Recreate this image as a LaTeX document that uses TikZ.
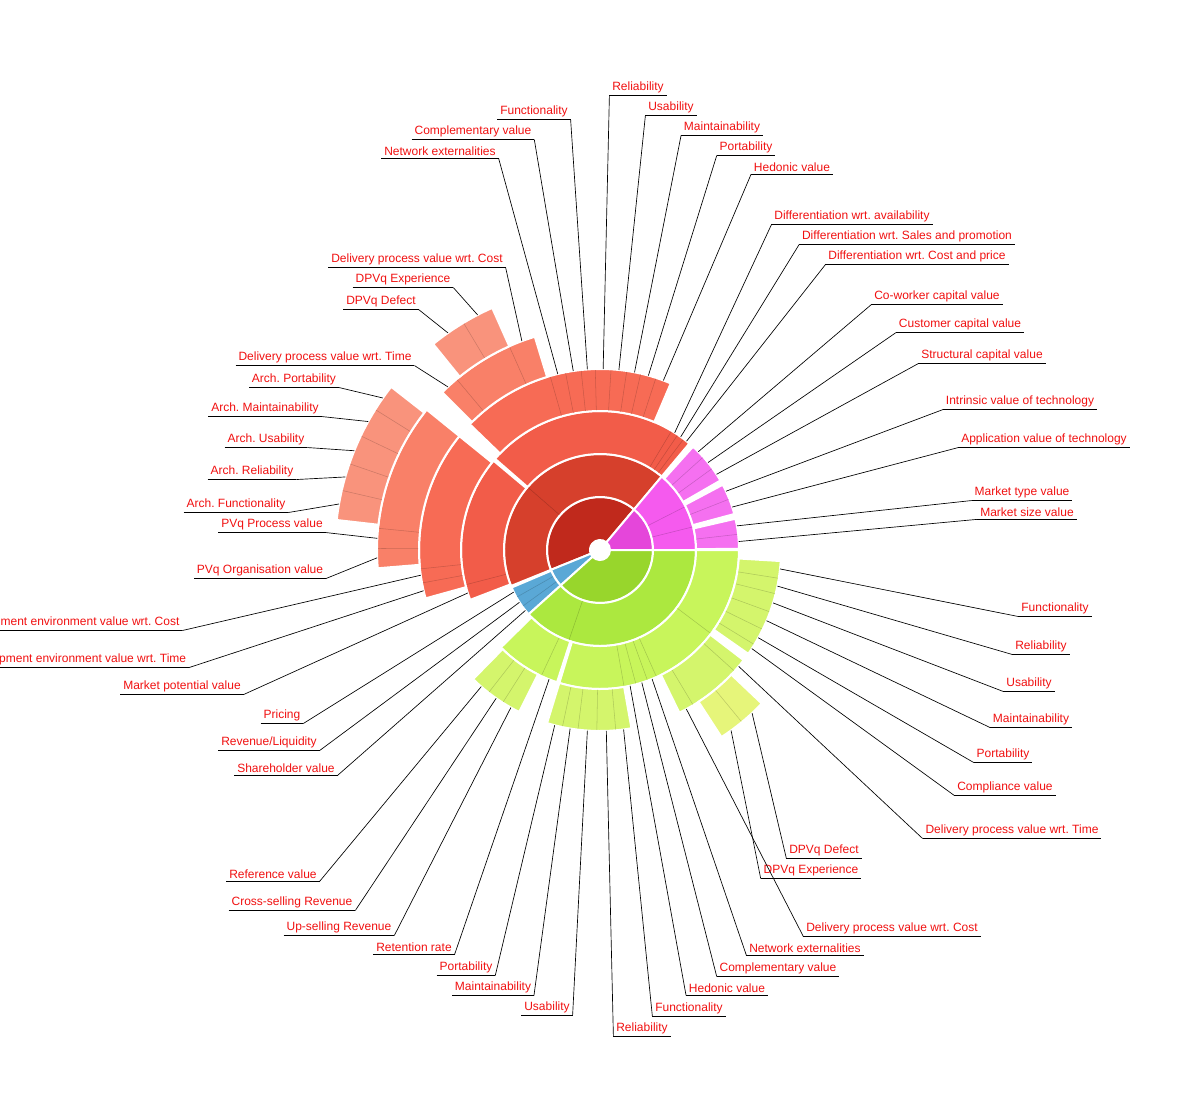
\documentclass[tikz,border=0pt]{standalone}
\usepackage{fontspec}
\setmainfont{Liberation Sans}
\usetikzlibrary{calc}
\frenchspacing

\definecolor{redA}{HTML}{C0291C}
\definecolor{redB}{HTML}{D6402C}
\definecolor{redC}{HTML}{F25C49}
\definecolor{redD}{HTML}{F76B55}
\definecolor{redE}{HTML}{F98068}
\definecolor{redF}{HTML}{F9937C}
\definecolor{grnA}{HTML}{98D62C}
\definecolor{grnB}{HTML}{ACE83F}
\definecolor{grnC}{HTML}{C8F55B}
\definecolor{grnD}{HTML}{D4F56C}
\definecolor{grnE}{HTML}{E6F57A}
\definecolor{magA}{HTML}{E546DA}
\definecolor{magB}{HTML}{F55AEE}
\definecolor{magC}{HTML}{F570F0}
\definecolor{bluA}{HTML}{5AA8D6}
\definecolor{lblred}{HTML}{F01010}

% ring piece: radii #2,#3 and angles #4,#5
\newcommand\seg[5][]{\path[#1] (#4:#2) arc[start angle=#4,end angle=#5,radius=#2]
  -- (#5:#3) arc[start angle=#5,end angle=#4,radius=#3] -- cycle;}
% group of pieces with cuts
\newcommand\grp[6]{\seg[fill=#3,draw=white,line width=1.5pt]{#1}{#2}{#4}{#5}
  \foreach \c in {#6}{\draw[cut=#3] (\c:#1+1) -- (\c:#2-1);}}

\begin{document}
\begin{tikzpicture}[x=0.75pt,y=0.75pt,
  cut/.style={draw=#1!82!black,line width=0.4pt},
  lbl/.style={text=lblred,font=\fontsize{9}{10}\selectfont,inner sep=2pt},
  lead/.style={draw=black,line width=0.5pt}]
  \useasboundingbox (0,0) rectangle (1200,-1100);
  \coordinate (O) at (600,-550);
  \begin{scope}[shift={(600,-550)}]
    % ring 1
    \seg[fill=redA,draw=white,line width=1.5pt]{10}{53}{50}{202}
    \seg[fill=magA,draw=white,line width=1.5pt]{10}{53}{0}{50}
    \seg[fill=bluA,draw=white,line width=1.5pt]{10}{53}{202}{222}
    \seg[fill=grnA,draw=white,line width=1.5pt]{10}{53}{222}{360}
    % ring 2
    \grp{53}{96}{redB}{50}{202}{139}
    \grp{53}{96}{magB}{0}{50}{14,27}
    \grp{53}{96}{bluA}{203}{222}{209.5,216}
    \grp{53}{96}{grnB}{222}{360}{251}
    % ring 3
    \grp{96}{139}{redC}{50}{139}{53,56,59}
    \grp{96}{139}{redC}{140}{201}{194.5}
    \grp{96}{139}{magC}{0.5}{13}{6.5}
    \grp{96}{139}{magC}{15}{28}{21.5}
    \grp{96}{139}{magC}{30}{48}{36,42}
    \grp{96}{139}{grnC}{224.5}{252}{245}
    \grp{96}{139}{grnC}{253}{360}{280,285,290,294,323}
    % ring 4
    \grp{139}{181}{redD}{67}{136}{72,77,81.5,86.5,91.5,96,101,106}
    \grp{139}{181}{redD}{141}{195.5}{186,190.5}
    \grp{139}{181}{grnD}{225.5}{243.5}{232,237.5}
    \grp{139}{181}{grnD}{253}{280}{258,263,269,275}
    \grp{139}{181}{grnD}{296}{322.5}{301,318}
    \grp{139}{181}{grnD}{325}{356.5}{328.5,334,340,346,351}
    % ring 5
    \grp{181}{223}{redE}{107}{135}{114,130}
    \grp{181}{223}{redE}{141}{184.7}{174.4,179.6}
    \grp{181}{223}{grnE}{303}{316.5}{309.5}
    % ring 6
    \grp{223}{265}{redF}{114}{129}{121}
    \grp{223}{265}{redF}{142}{173.5}{148,154.5,161,167}
  \end{scope}
  % hole
  \fill[white] (O) circle (10);
  % labels
  \foreach \a/\r/\x/\y/\s/\t [count=\n] in {
    89/181/638/87/west/Reliability,
    94/181/534/111/east/Functionality,
    84/181/671/107/west/Usability,
    79/181/722/127/west/Maintainability,
    74.5/181/746/147/west/Portability,
    98.5/181/473/131/east/Complementary value,
    103.5/181/440/151/east/Network externalities,
    69.5/181/792/167/west/Hedonic value,
    57.5/139/852/216/west/Differentiation wrt. availability,
    54.5/139/907/236/west/Differentiation wrt. Sales and promotion,
    51.5/139/917/256/west/Differentiation wrt. Cost and price,
    45/139/937/296/west/Co-worker capital value,
    39/139/960/324/west/Customer capital value,
    33/139/982/355/west/Structural capital value,
    25/139/1020/401/west/Intrinsic value of technology,
    18/139/1044/439/west/Application value of technology,
    10/139/1022/492/west/Market type value,
    3.5/139/1027/512/west/Market size value,
    354/181/1055/608/west/Functionality,
    348.5/181/1041/646/west/Reliability,
    343/181/1029/683/west/Usability,
    337/181/1031/719/west/Maintainability,
    331/181/1003/754/west/Portability,
    327/181/1005/787/west/Compliance value,
    320/181/1012/830/west/Delivery process value wrt. Time,
    313/223/824/850/west/DPVq Defect,
    306/223/811/870/west/DPVq Experience,
    298.5/181/892/928/west/Delivery process value wrt. Cost,
    292/139/805/948/west/Network externalities,
    287.5/139/778/968/west/Complementary value,
    282.5/139/727/988/west/Hedonic value,
    277.5/181/689/1008/west/Functionality,
    272/181/642/1028/west/Reliability,
    266/181/547/1007/east/Usability,
    260.5/181/493/987/east/Maintainability,
    255.5/181/466/967/east/Portability,
    248.5/139/414/947/east/Retention rate,
    240.5/181/339/927/east/Up-selling Revenue,
    235/181/292/902/east/Cross-selling Revenue,
    229/181/273/874/east/Reference value,
    219/96/286/768/east/Shareholder value,
    213/96/269/742/east/{Revenue/Liquidity},
    206/96/282/715/east/Pricing,
    198/139/182/686/east/Market potential value,
    193/181/74/659/east/Development environment value wrt. Time,
    188/181/68/622/east/Development environment value wrt. Cost,
    182/223/260/570/east/PVq Organisation value,
    177/223/272/524/east/PVq Process value,
    170/265/236/504/east/Arch. Functionality,
    164/265/252/471/east/Arch. Reliability,
    158/265/266/439/east/Arch. Usability,
    151/265/265/408/east/Arch. Maintainability,
    145/265/294/379/east/Arch. Portability,
    133/223/325/357/east/Delivery process value wrt. Time,
    125/265/381/301/east/DPVq Defect,
    117.5/265/403/279/east/DPVq Experience,
    110.5/223/417/259/east/Delivery process value wrt. Cost}{
    \node[lbl] (t\n) at (\x,-\y) {\t};
    \coordinate (e\n) at ($(O)+(\a:\r)$);
    \draw[lead] (e\n) -- (t\n.south \s);
    \draw[lead] (t\n.south west) -- (t\n.south east);
  }
\end{tikzpicture}
\end{document}
